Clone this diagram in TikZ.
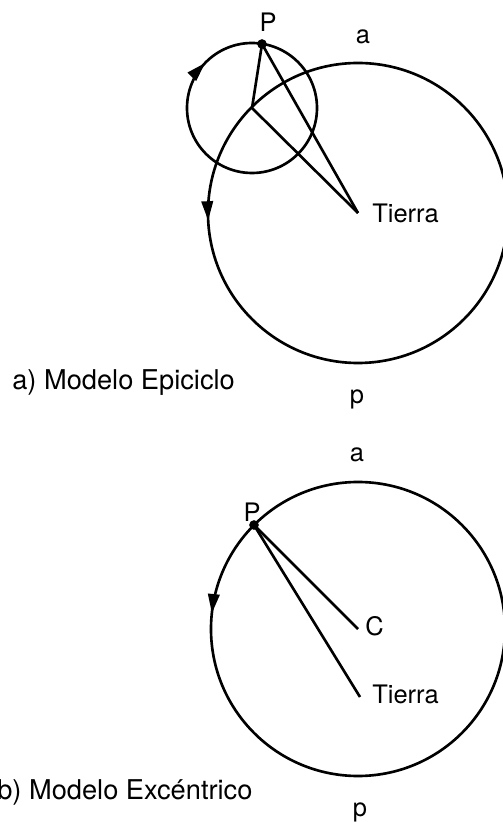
\documentclass[tikz,border=0pt]{standalone}
\usepackage{fontspec}
\setmainfont{TeX Gyre Heros}
\usetikzlibrary{arrows.meta, decorations.markings}
\tikzset{
  orb/.style={line width=1.5pt},
  rad/.style={line width=1.5pt},
  lb/.style={inner sep=0pt, font=\fontsize{14.5}{17}\selectfont},
  capt/.style={inner sep=0pt, font=\fontsize{15.5}{18}\selectfont},
  pdot/.style={circle, fill, inner sep=0pt, minimum size=5.5pt},
  fw/.style={postaction={decorate}, decoration={markings,
    mark=at position #1 with {\arrow{Triangle[length=11pt, width=6.5pt]}}}},
  bw/.style={postaction={decorate}, decoration={markings,
    mark=at position #1 with {\arrowreversed{Triangle[length=11pt, width=6.5pt]}}}},
}
\begin{document}
\begin{tikzpicture}[x=0.02cm, y=0.02cm]
  \useasboundingbox (0,0) rectangle (503,822);
  % a) epiciclo
  \coordinate (t1) at (358,609);
  \coordinate (e1) at (252,714);
  \draw[orb, fw=0.508] (t1) circle (150);
  \draw[orb, bw=0.378] (e1) circle (65);
  \node[pdot] (p1) at (262,778) {};
  \draw[rad] (p1.center) -- (e1);
  \draw[rad] (p1.center) -- (t1);
  \draw[rad] (e1) -- (t1);
  \node[lb] (lp1) at (268,800) {P};
  \node[lb] (la1) at (363,785) {a};
  \node[lb] (lpp1) at (357,423) {p};
  \node[lb, anchor=west] (lt1) at (372,609) {Tierra};
  \node[capt, anchor=base west] (cap1) at (12,432) {a) Modelo Epiciclo};
  % b) excentrico
  \coordinate (c2) at (358,193);
  \coordinate (t2) at (360,125);
  \draw[orb, fw=0.483] (c2) circle (147);
  \node[pdot] (p2) at (254,297) {};
  \draw[rad] (p2.center) -- (c2);
  \draw[rad] (p2.center) -- (t2);
  \node[lb] (lp2) at (252,310) {P};
  \node[lb] (la2) at (357,367) {a};
  \node[lb] (lpp2) at (360,10) {p};
  \node[lb, anchor=west] (lc2) at (365,196) {C};
  \node[lb, anchor=west] (lt2) at (372,128) {Tierra};
  \node[capt, anchor=base west] (cap2) at (-3,22) {b) Modelo Excéntrico};
\end{tikzpicture}
\end{document}
